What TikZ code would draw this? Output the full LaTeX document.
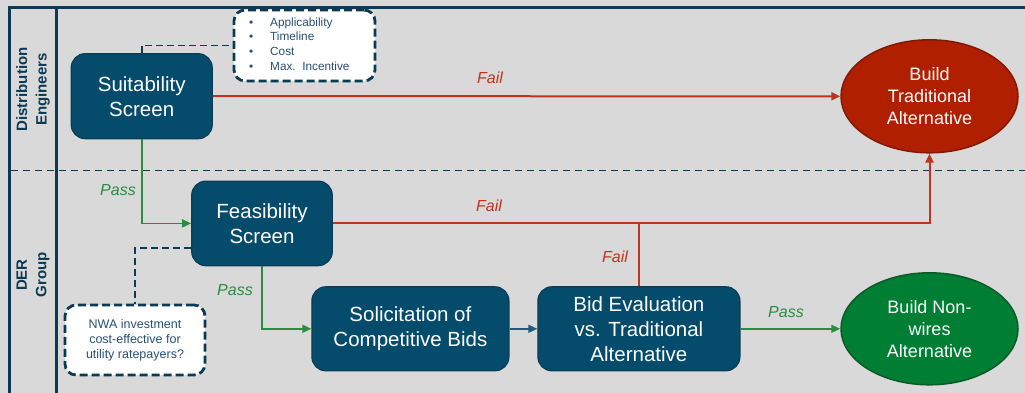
\documentclass[tikz,border=0pt]{standalone}
\usepackage{fontspec}
\setmainfont{Liberation Sans}
\usetikzlibrary{arrows.meta,shapes.geometric}
\definecolor{bgray}{RGB}{217,217,217}
\definecolor{navy}{RGB}{10,58,84}
\definecolor{boxfill}{RGB}{5,75,107}
\definecolor{boxedge}{RGB}{12,60,85}
\definecolor{failred}{RGB}{190,52,30}
\definecolor{redfill}{RGB}{176,32,0}
\definecolor{rededge}{RGB}{130,25,5}
\definecolor{passgreen}{RGB}{42,140,62}
\definecolor{greenfill}{RGB}{0,127,52}
\definecolor{greenedge}{RGB}{10,90,40}
\definecolor{notetext}{RGB}{40,80,115}
\definecolor{linkblue}{RGB}{30,90,125}
\tikzset{
  stepbox/.style={rectangle, rounded corners=14pt, fill=boxfill, draw=boxedge,
    line width=1.2pt, text=white, align=center, inner sep=0pt,
    font=\fontsize{20.5}{25}\selectfont},
  endpoint/.style={ellipse, inner sep=0pt, line width=1.5pt, text=white,
    align=center, font=\fontsize{18}{22}\selectfont,
    minimum width=177pt, minimum height=113pt},
  notebox/.style={rectangle, rounded corners=11pt, fill=white, draw=navy,
    line width=2.8pt, dash pattern=on 8pt off 4pt, inner sep=0pt,
    text=notetext},
  lane/.style={line width=3pt, draw=navy},
  failline/.style={draw=failred, line width=2pt},
  passline/.style={draw=passgreen, line width=1.6pt},
  tip/.style={-{Triangle[length=9pt,width=8pt]}},
  faillbl/.style={text=failred, font=\fontsize{16}{18}\selectfont\itshape},
  passlbl/.style={text=passgreen, font=\fontsize{16}{18}\selectfont\itshape},
  notelink/.style={draw=navy, line width=1.6pt, dash pattern=on 7pt off 4pt},
  lanelbl/.style={text=navy, rotate=90, align=center,
    font=\fontsize{15}{19.5}\selectfont\bfseries},
}
\begin{document}
\begin{tikzpicture}[x=1pt,y=-1pt]
  \useasboundingbox (0,0) rectangle (1025,393);
  \fill[bgray] (0,0) rectangle (1025,393);

  % swimlane frame
  \draw[lane] (1025,7.5) -- (9.5,7.5) -- (9.5,393);
  \draw[lane] (56.5,7.5) -- (56.5,393);
  \draw[navy, line width=1.5pt, dash pattern=on 7pt off 5pt] (11,170.5) -- (1025,170.5);

  \node[lanelbl] (laneA) at (33,89.5) {Distribution\\Engineers};
  \node[lanelbl] (laneB) at (33,275) {DER\\Group};

  % process steps
  \node[stepbox, minimum width=141pt, minimum height=85pt] (suit) at (141.7,96.2)
    {Suitability\\Screen};
  \node[stepbox, minimum width=140.5pt, minimum height=84.5pt] (feas) at (262,223.4)
    {Feasibility\\Screen};
  \node[stepbox, minimum width=197pt, minimum height=84pt] (sol) at (410.4,328.8)
    {Solicitation of\\Competitive Bids};
  \node[stepbox, minimum width=202pt, minimum height=84pt] (bid) at (638.9,328.8)
    {Bid Evaluation\\vs. Traditional\\Alternative};

  % outcomes
  \node[endpoint, fill=redfill, draw=rededge] (trad) at (929.5,96.3)
    {Build\\Traditional\\Alternative};
  \node[endpoint, fill=greenfill, draw=greenedge, minimum height=112pt] (nwires) at (929.5,328.8)
    {Build Non-\\wires\\Alternative};

  % notes
  \node[notebox, minimum width=141pt, minimum height=71pt] (crit) at (304.5,45.5) {};
  \node[text=notetext, font=\fontsize{11.8}{14.7}\selectfont, anchor=north west, align=left,
        inner sep=0pt] (critlist) at (249,17.5)
    {\makebox[21pt][l]{\textbullet}Applicability\\
     \makebox[21pt][l]{\textbullet}Timeline\\
     \makebox[21pt][l]{\textbullet}Cost\\
     \makebox[21pt][l]{\textbullet}Max.\ \ Incentive};
  \node[notebox, minimum width=140pt, minimum height=70pt, align=center,
        font=\fontsize{12.5}{14.8}\selectfont] (nwa) at (135,340)
    {NWA investment\\cost-effective for\\utility ratepayers?};

  \draw[notelink] (suit.north) |- (crit.west);
  \coordinate (feasnote) at ([yshift=-24.5pt]feas.west);
  \draw[notelink] (feasnote) -| (nwa.north);

  % fail paths
  \draw[failline, tip] (suit.east) -- (trad.west);
  \draw[failline, tip] (feas.east) -| (trad.south);
  \draw[failline] (bid.north) -- (bid.north |- feas.east);

  % pass paths
  \draw[passline, tip] (suit.south) |- (feas.west);
  \draw[passline, tip] (feas.south) |- (sol.west);
  \draw[passline, tip] (bid.east) -- (nwires.west);
  \draw[draw=linkblue, line width=1.6pt, tip] (sol.east) -- (bid.west);

  % branch labels
  \node[faillbl] (f1) at (490,78) {Fail};
  \node[faillbl] (f2) at (489,206) {Fail};
  \node[faillbl] (f3) at (615,256.5) {Fail};
  \node[passlbl] (p1) at (118,190.5) {Pass};
  \node[passlbl] (p2) at (235,290.5) {Pass};
  \node[passlbl] (p3) at (786,312.5) {Pass};
\end{tikzpicture}
\end{document}
